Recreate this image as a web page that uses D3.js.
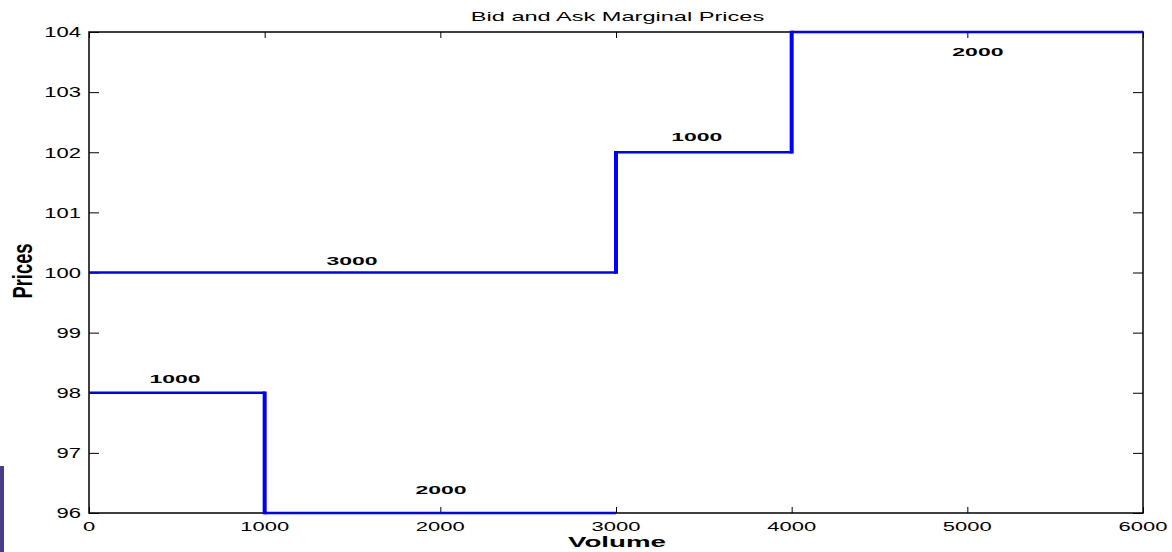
<!DOCTYPE html>
<html>
<head>
<meta charset="utf-8">
<script src="https://cdn.jsdelivr.net/npm/d3@7/dist/d3.min.js"></script>
<style>
  html, body { margin: 0; padding: 0; background: #fff; }
  svg { display: block; }
  text { font-family: "Liberation Sans", Arial, Helvetica, sans-serif; fill: #000; }
</style>
</head>
<body>
<script>
// Order book step curves: cumulative volume vs marginal price
const bidVolumes = [0, 1000, 3000];
const bidPrices = [98, 96];
const askVolumes = [0, 3000, 4000, 6000];
const askPrices = [100, 102, 104];

// Per-level quantity annotations (data coordinates of the label baseline)
const labelText = ["1000", "2000", "3000", "1000", "2000"];
const labelVolume = [490, 2004, 1497, 3460, 5060];
const labelPrice = [98.17, 96.32, 100.12, 102.19, 103.60];

const xTicks = [0, 1000, 2000, 3000, 4000, 5000, 6000];
const yTicks = [96, 97, 98, 99, 100, 101, 102, 103, 104];

const W = 1172, H = 552;
const margin = { left: 89, right: 29, top: 32, bottom: 39 };

const svg = d3.select("body").append("svg").attr("width", W).attr("height", H);

const x = d3.scaleLinear().domain([0, 6000]).range([margin.left, W - margin.right]);
const y = d3.scaleLinear().domain([96, 104]).range([H - margin.bottom, margin.top]);

// text drawn with a vertical squash (wide, low glyphs)
function squashed(parent, px, py, k, str) {
  return parent.append("text")
    .attr("transform", `translate(${px},${py}) scale(1,${k})`)
    .text(str);
}

// small side marker at the left edge
svg.append("rect").attr("x", 0).attr("y", 466).attr("width", 4).attr("height", H - 466)
  .attr("fill", "#483d8b");

// axes: inward ticks on all four sides
const tickX = 6, tickY = 10;
const g = svg.append("g");
g.append("g").attr("transform", `translate(0,${y(96)})`)
  .call(d3.axisBottom(x).tickValues(xTicks).tickSize(-tickX).tickFormat(""));
g.append("g").attr("transform", `translate(0,${y(104)})`)
  .call(d3.axisTop(x).tickValues(xTicks).tickSize(-tickX).tickFormat(""));
g.append("g").attr("transform", `translate(${x(0)},0)`)
  .call(d3.axisLeft(y).tickValues(yTicks).tickSize(-tickY).tickFormat(""));
g.append("g").attr("transform", `translate(${x(6000)},0)`)
  .call(d3.axisRight(y).tickValues(yTicks).tickSize(-tickY).tickFormat(""));
g.selectAll(".domain").remove();
g.selectAll(".tick line").attr("stroke", "#000").attr("stroke-width", 1);

// tick labels
const tickLabels = svg.append("g").attr("font-size", 22);
xTicks.forEach(v => {
  squashed(tickLabels, x(v), y(96) + 18, 0.62, d3.format("d")(v)).attr("text-anchor", "middle");
});
yTicks.forEach(v => {
  squashed(tickLabels, x(0) - 8, y(v) + 5.3, 0.66, d3.format("d")(v)).attr("text-anchor", "end");
});

// box
svg.append("rect")
  .attr("x", x(0)).attr("y", y(104))
  .attr("width", x(6000) - x(0)).attr("height", y(96) - y(104))
  .attr("fill", "none").attr("stroke", "#000").attr("stroke-width", 1.5);

// step curves: horizontal runs (thinner) and vertical jumps (thicker)
const hWidth = 2.6, vWidth = 4;
function stepSegments(vols, prices) {
  const segs = [];
  prices.forEach((p, i) => {
    segs.push({ x1: vols[i], y1: p, x2: vols[i + 1], y2: p, h: true });
    if (i > 0) segs.push({ x1: vols[i], y1: prices[i - 1], x2: vols[i], y2: p, h: false });
  });
  return segs;
}
const curves = svg.append("g").attr("stroke", "#0000ff");
[stepSegments(bidVolumes, bidPrices), stepSegments(askVolumes, askPrices)].forEach(segs => {
  curves.selectAll(null).data(segs).enter().append("line")
    .attr("x1", d => x(d.x1)).attr("x2", d => x(d.x2))
    .attr("y1", d => {
      if (d.h) return y(d.y1);
      const s = Math.sign(y(d.y2) - y(d.y1));
      return y(d.y1) - s * hWidth / 2;
    })
    .attr("y2", d => {
      if (d.h) return y(d.y2);
      const s = Math.sign(y(d.y2) - y(d.y1));
      return y(d.y2) + s * hWidth / 2;
    })
    .attr("stroke-linecap", "butt")
    .attr("stroke-width", d => d.h ? hWidth : vWidth);
});

// quantity labels
const qty = svg.append("g").attr("font-size", 23).attr("font-weight", "bold");
labelText.forEach((t, i) => {
  squashed(qty, x(labelVolume[i]), y(labelPrice[i]), 0.49, t).attr("text-anchor", "middle");
});

// title
squashed(svg, x(3000) + 1.5, 20.7, 0.57, "Bid and Ask Marginal Prices")
  .attr("text-anchor", "middle").attr("font-size", 23.6);

// axis labels
squashed(svg, 617, 546.7, 0.56, "Volume")
  .attr("text-anchor", "middle").attr("font-size", 27.7).attr("font-weight", "bold");

svg.append("text")
  .attr("transform", `translate(32,271) rotate(-90) scale(0.68,1)`)
  .attr("text-anchor", "middle")
  .attr("font-size", 27).attr("font-weight", "bold")
  .text("Prices");
</script>
</body>
</html>
